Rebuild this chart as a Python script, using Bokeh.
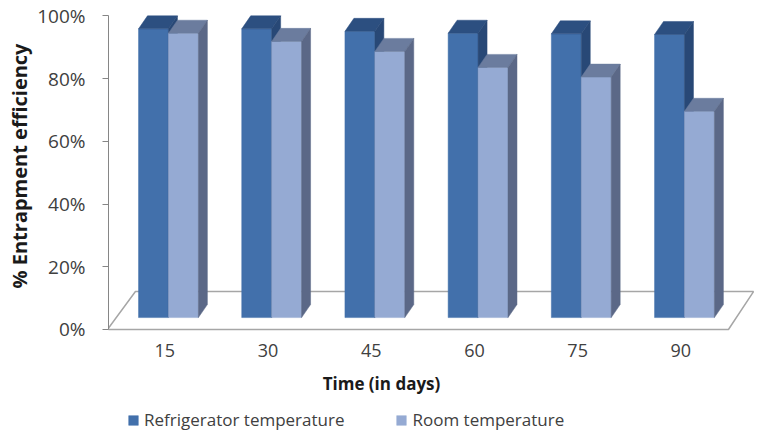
from bokeh.plotting import figure
from bokeh.models import (Range1d, FixedTicker, NumeralTickFormatter, Legend,
                          LegendItem, Title, Label, ColumnDataSource)
from bokeh.core.properties import value
from bokeh.embed import file_html
from bokeh.resources import INLINE

# ---------------- data ----------------
days = ["15", "30", "45", "60", "75", "90"]
refrigerator = [0.921, 0.921, 0.913, 0.907, 0.905, 0.903]
room = [0.907, 0.881, 0.849, 0.798, 0.767, 0.658]
y_ticks = [0, 0.2, 0.4, 0.6, 0.8, 1.0]

# ---------------- style / pseudo-3D geometry (axis units) ----------------
BW = 0.29      # width of one bar
BASE = 0.038   # lift of bar base (bars stand in the middle of the floor)
DX = 0.087     # depth offset x
DY = 0.0415    # depth offset y
FONT = "Open Sans"

REF_FRONT, REF_TOP, REF_SIDE = "#4270AB", "#2C4F80", "#284876"
ROOM_FRONT, ROOM_TOP, ROOM_SIDE = "#95AAD3", "#6B7C9E", "#5B6887"

p = figure(width=762, height=436, output_backend="svg", toolbar_location=None,
           x_range=Range1d(-0.581, 5.756), y_range=Range1d(-0.3413, 1.0494),
           min_border_left=108, min_border_right=0, min_border_top=0,
           min_border_bottom=0)
p.outline_line_color = None
p.grid.visible = False
p.background_fill_color = "white"
p.xaxis.visible = False

# floor
n = len(days)
p.patch(x=[-0.591, n - 1 + 0.426, n - 1 + 0.669, -0.32], y=[0, 0, 0.121, 0.121],
        fill_color="white", line_color="#A6A6A6", line_width=1.5)


def faces(values, offset):
    lefts = [i + offset for i in range(len(values))]
    rights = [l + BW for l in lefts]
    tops = [BASE + v for v in values]
    top_xs = [[l, r, r + DX, l + DX] for l, r in zip(lefts, rights)]
    top_ys = [[t, t, t + DY, t + DY] for t in tops]
    side_xs = [[r, r + DX, r + DX, r] for r in rights]
    side_ys = [[BASE, BASE + DY, t + DY, t] for t in tops]
    return lefts, rights, tops, top_xs, top_ys, side_xs, side_ys


def draw(values, offset, cf, ct, cs):
    l, r, t, txs, tys, sxs, sys_ = faces(values, offset)
    front = p.quad(left=l, right=r, bottom=BASE, top=t, fill_color=cf,
                   line_color=cf, line_width=0.5)
    p.patches(xs=txs, ys=tys, fill_color=ct, line_color=ct, line_width=0.5)
    p.patches(xs=sxs, ys=sys_, fill_color=cs, line_color=cs, line_width=0.5)
    return front


rf = draw(refrigerator, -BW, REF_FRONT, REF_TOP, REF_SIDE)
rm = draw(room, 0.0, ROOM_FRONT, ROOM_TOP, ROOM_SIDE)

# category labels under the floor
lab = ColumnDataSource(dict(x=[i - 0.035 for i in range(n)], y=[-0.067] * n, t=days))
p.text(x="x", y="y", text="t", source=lab, text_align="center",
       text_baseline="middle", text_font=value(FONT), text_font_size="18px",
       text_color="#404040")

# x axis title
p.add_layout(Label(x=2.064, y=-0.172, text="Time (in days)", text_align="center",
                   text_baseline="middle", text_font=FONT, text_font_style="bold",
                   text_font_size="17px", text_color="#1a1a1a"))

# y axis
ya = p.yaxis[0]
ya.ticker = FixedTicker(ticks=y_ticks)
ya.formatter = NumeralTickFormatter(format="0%")
ya.bounds = (0, 1)
ya.axis_line_color = "#868686"
ya.major_tick_line_color = "#868686"
ya.major_tick_out = 6
ya.major_tick_in = 0
ya.minor_tick_line_color = None
ya.major_label_standoff = 17
ya.major_label_text_font = FONT
ya.major_label_text_font_size = "19px"
ya.major_label_text_color = "#404040"

p.add_layout(Title(text="% Entrapment efficiency", align="right", offset=43,
                   text_font=FONT, text_font_style="bold", text_font_size="20px",
                   text_color="#1a1a1a", standoff=4), "left")

legend = Legend(items=[LegendItem(label="Refrigerator temperature", renderers=[rf]),
                       LegendItem(label="Room temperature", renderers=[rm])],
                orientation="horizontal", location=(19, 5),
                glyph_width=12, glyph_height=12, label_standoff=5,
                label_text_font=FONT, label_text_font_size="17px",
                label_text_color="#404040", spacing=51, padding=0, margin=0,
                border_line_color=None, background_fill_alpha=0)
p.add_layout(legend)

open("out.html", "w").write(file_html(p, INLINE))
